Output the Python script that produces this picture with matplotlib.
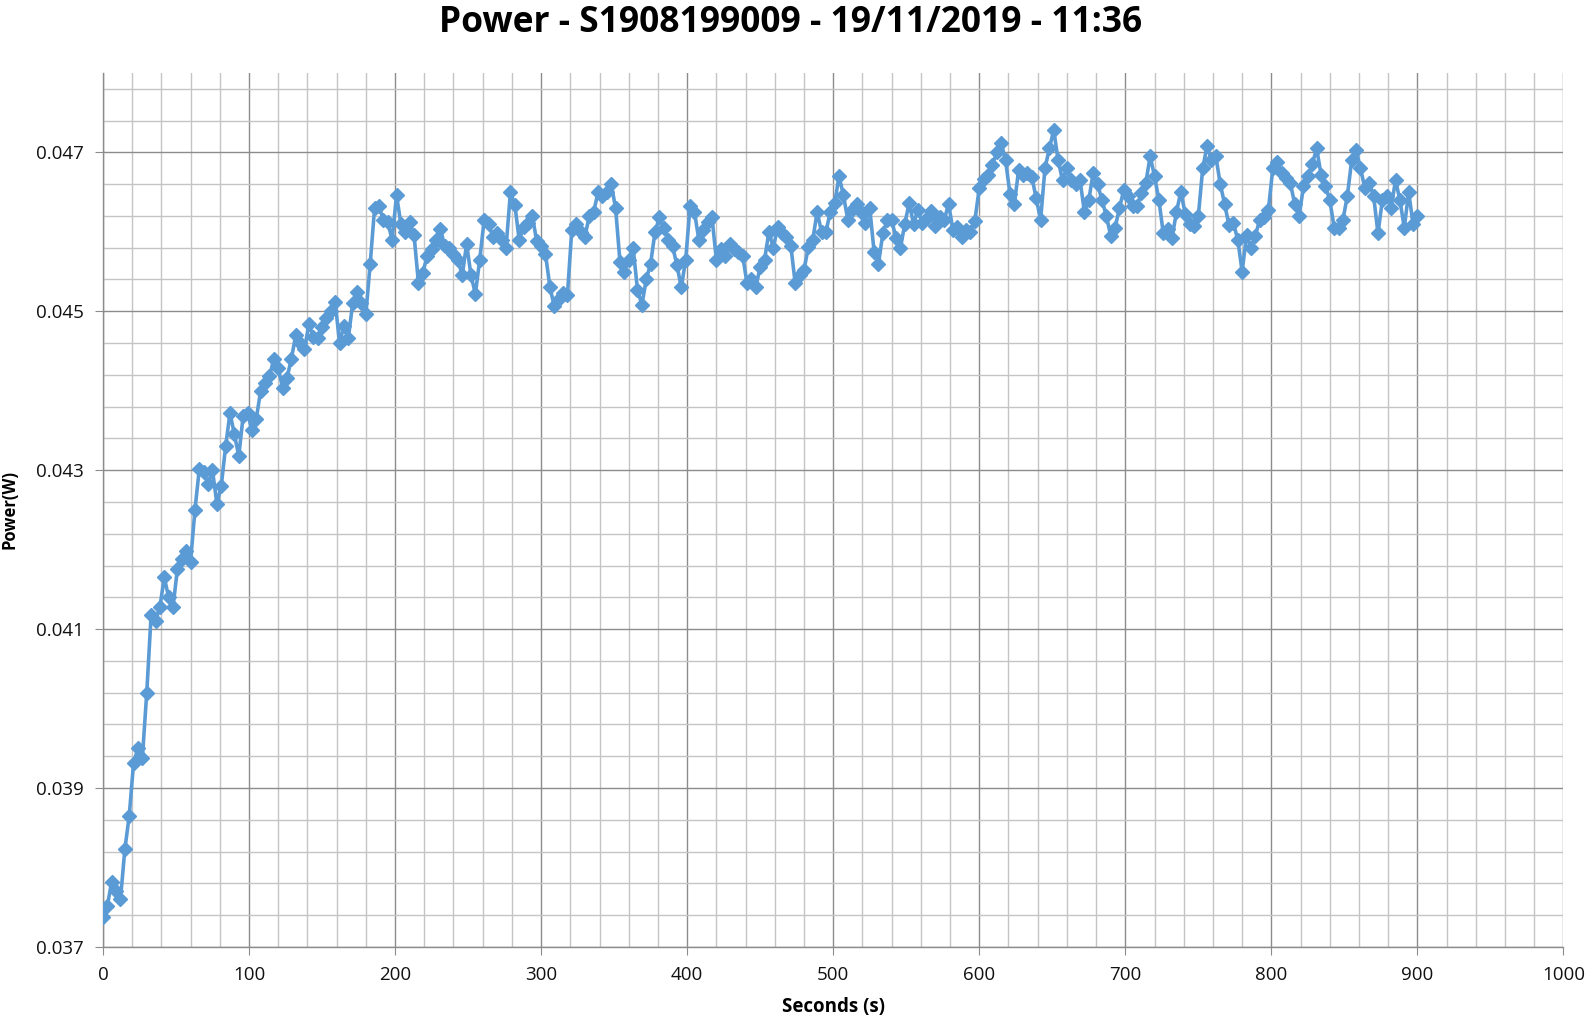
import numpy as np
import matplotlib
matplotlib.use("Agg")
import matplotlib.pyplot as plt
from matplotlib.ticker import FixedLocator, MultipleLocator, FormatStrFormatter

# power readings (W), one every 3 seconds
step = 3
power = [
    0.03738, 0.03752, 0.03782, 0.03770, 0.03760, 0.03823, 0.03865, 0.03932, 0.03950, 0.03938,
    0.04020, 0.04118, 0.04110, 0.04128, 0.04165, 0.04140, 0.04128, 0.04176, 0.04188, 0.04198,
    0.04185, 0.04250, 0.04302, 0.04298, 0.04282, 0.04300, 0.04258, 0.04280, 0.04330, 0.04372,
    0.04345, 0.04318, 0.04368, 0.04372, 0.04350, 0.04365, 0.04400, 0.04410, 0.04418, 0.04440,
    0.04428, 0.04404, 0.04416, 0.04440, 0.04470, 0.04460, 0.04452, 0.04484, 0.04468, 0.04466,
    0.04480, 0.04492, 0.04500, 0.04512, 0.04460, 0.04482, 0.04466, 0.04510, 0.04524, 0.04510,
    0.04496, 0.04560, 0.04630, 0.04632, 0.04615, 0.04612, 0.04590, 0.04646, 0.04610, 0.04600,
    0.04612, 0.04596, 0.04536, 0.04548, 0.04570, 0.04578, 0.04590, 0.04604, 0.04582, 0.04580,
    0.04572, 0.04565, 0.04545, 0.04585, 0.04545, 0.04522, 0.04565, 0.04615, 0.04610, 0.04594,
    0.04598, 0.04590, 0.04580, 0.04650, 0.04634, 0.04590, 0.04606, 0.04611, 0.04620, 0.04588,
    0.04582, 0.04572, 0.04531, 0.04506, 0.04515, 0.04523, 0.04520, 0.04602, 0.04610, 0.04600,
    0.04594, 0.04620, 0.04625, 0.04650, 0.04645, 0.04650, 0.04660, 0.04630, 0.04562, 0.04550,
    0.04565, 0.04580, 0.04527, 0.04508, 0.04540, 0.04560, 0.04600, 0.04618, 0.04605, 0.04590,
    0.04582, 0.04558, 0.04530, 0.04565, 0.04632, 0.04625, 0.04590, 0.04602, 0.04612, 0.04618,
    0.04565, 0.04578, 0.04570, 0.04584, 0.04578, 0.04575, 0.04570, 0.04535, 0.04540, 0.04530,
    0.04556, 0.04565, 0.04600, 0.04580, 0.04606, 0.04598, 0.04594, 0.04582, 0.04535, 0.04546,
    0.04552, 0.04581, 0.04590, 0.04625, 0.04600, 0.04600, 0.04625, 0.04636, 0.04670, 0.04646,
    0.04615, 0.04628, 0.04635, 0.04625, 0.04611, 0.04630, 0.04575, 0.04560, 0.04598, 0.04615,
    0.04615, 0.04592, 0.04579, 0.04610, 0.04636, 0.04610, 0.04628, 0.04611, 0.04617, 0.04626,
    0.04607, 0.04619, 0.04615, 0.04635, 0.04602, 0.04606, 0.04594, 0.04602, 0.04600, 0.04614,
    0.04655, 0.04667, 0.04672, 0.04684, 0.04700, 0.04712, 0.04690, 0.04648, 0.04635, 0.04678,
    0.04672, 0.04674, 0.04669, 0.04642, 0.04615, 0.04680, 0.04705, 0.04728, 0.04690, 0.04665,
    0.04680, 0.04665, 0.04660, 0.04665, 0.04625, 0.04640, 0.04674, 0.04660, 0.04640, 0.04620,
    0.04595, 0.04605, 0.04630, 0.04653, 0.04645, 0.04632, 0.04632, 0.04649, 0.04661, 0.04695,
    0.04670, 0.04640, 0.04598, 0.04603, 0.04592, 0.04625, 0.04650, 0.04623, 0.04610, 0.04607,
    0.04620, 0.04680, 0.04708, 0.04690, 0.04695, 0.04660, 0.04635, 0.04608, 0.04611, 0.04590,
    0.04550, 0.04596, 0.04580, 0.04595, 0.04615, 0.04618, 0.04628, 0.04680, 0.04688, 0.04674,
    0.04668, 0.04661, 0.04635, 0.04620, 0.04657, 0.04670, 0.04685, 0.04705, 0.04672, 0.04657,
    0.04640, 0.04605, 0.04605, 0.04615, 0.04645, 0.04690, 0.04703, 0.04680, 0.04655, 0.04662,
    0.04645, 0.04598, 0.04640, 0.04645, 0.04630, 0.04665, 0.04640, 0.04605, 0.04650, 0.04610,
    0.04620,
]
seconds = np.arange(len(power)) * step

y_major = [0.037, 0.039, 0.041, 0.043, 0.045, 0.047]

plt.rcParams['font.family'] = ['Open Sans', 'DejaVu Sans']

fig = plt.figure(figsize=(15.91, 10.26), dpi=100)
ax = fig.add_axes([0.0647, 0.077, 0.918, 0.852])

ax.plot(seconds, power, color='#5B9BD5', linewidth=2.6, marker='D',
        markersize=7, markeredgecolor='#5B9BD5', markerfacecolor='#5B9BD5', zorder=3)

ax.set_xlim(0, 1000)
ax.set_ylim(0.037, 0.048)

ax.xaxis.set_major_locator(MultipleLocator(100))
ax.xaxis.set_minor_locator(MultipleLocator(20))
ax.yaxis.set_major_locator(FixedLocator(y_major))
ax.yaxis.set_minor_locator(FixedLocator(np.arange(0.0374, 0.0479, 0.0004)))
ax.yaxis.set_major_formatter(FormatStrFormatter('%.3f'))

ax.grid(which='major', color='#8C8C8C', linewidth=1.0)
ax.grid(which='minor', color='#C4C4C4', linewidth=1.0)
ax.set_axisbelow(True)

for s in ['top', 'right']:
    ax.spines[s].set_visible(False)
for s in ['left', 'bottom']:
    ax.spines[s].set_color('#8C8C8C')
    ax.spines[s].set_linewidth(1.0)

ax.tick_params(which='major', length=6, color='#8C8C8C', labelsize=13.5,
               labelcolor='#111111', pad=8)
ax.tick_params(which='minor', length=0)

ax.set_xlabel('Seconds (s)', fontsize=13.5, fontweight='bold', labelpad=9)
ax.set_ylabel('Power(W)', fontsize=12, fontweight='bold', labelpad=12)
fig.suptitle('Power - S1908199009 - 19/11/2019 - 11:36', fontsize=25.5,
             fontweight='bold', y=0.995, x=0.497)

fig.savefig('out.png', dpi=100)
